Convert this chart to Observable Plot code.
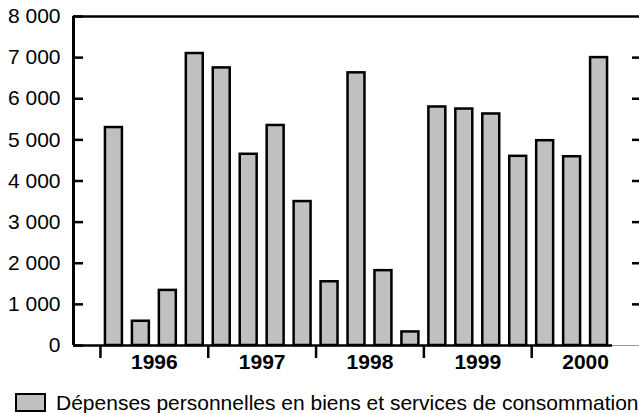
<!DOCTYPE html>
<html>
<head>
<meta charset="utf-8">
<script src="https://cdn.jsdelivr.net/npm/d3@7"></script>
<script src="https://cdn.jsdelivr.net/npm/@observablehq/plot@0.6"></script>
<style>
  body { margin: 0; background: #fff; font-family: "Liberation Sans", Arial, sans-serif; }
  #wrap { position: relative; width: 639px; height: 413px; overflow: hidden; }
  #legend { position: absolute; left: 15px; top: 392px; height: 21px; display: flex; align-items: center; font-size: 21px; color: #000; white-space: nowrap; }
  #legend .sw { width: 27px; height: 15px; background: #c0c0c0; border: 2px solid #000; margin-right: 10px; }
</style>
</head>
<body>
<div id="wrap">
  <div id="chart"></div>
  <div id="legend"><span class="sw"></span><span id="legtext"></span></div>
</div>
<script>
const years = [1996, 1997, 1998, 1999, 2000];
const quarterValues = [
  5300, 590, 1340, 7100,
  6750, 4650, 5350, 3500,
  1550, 6630, 1820, 330,
  5800, 5750, 5630, 4600,
  4980, 4590, 7000
];
const yTicks = [0, 1000, 2000, 3000, 4000, 5000, 6000, 7000, 8000];
const seriesName = "Dépenses personnelles en biens et services de consommation";

const data = quarterValues.map((v, i) => ({t: years[0] + i / 4, v}));
const fmt = d => d3.format(",")(d).replace(/,/g, " ");
const innerTicks = yTicks.filter(d => d > 0 && d < 8000);

const chart = Plot.plot({
  width: 639,
  height: 380,
  marginLeft: 73,
  marginRight: 0,
  marginTop: 16,
  marginBottom: 35,
  x: {type: "linear", domain: [years[0] - 0.25, years[years.length - 1] + 1], axis: null},
  y: {domain: [0, 8000], axis: null},
  style: {fontFamily: "'Liberation Sans', Arial, sans-serif", fontSize: "21px", color: "#000", background: "#fff"},
  marks: [
    Plot.rectY(data, {x1: "t", x2: d => d.t + 0.25, y: "v", fill: "#c0c0c0", stroke: "#000", strokeWidth: 2.5, insetLeft: 5, insetRight: 5}),
    Plot.ruleX([years[0] - 0.25], {stroke: "#000", strokeWidth: 3}),
    Plot.ruleY([8000], {stroke: "#000", strokeWidth: 2.5}),
    Plot.ruleY([0], {x1: years[0] - 0.25, x2: data[data.length - 1].t + 0.25, stroke: "#000", strokeWidth: 2.5}),
    Plot.ruleY([0], {x1: data[data.length - 1].t + 0.25, x2: years[years.length - 1] + 1, stroke: "#999", strokeWidth: 1}),
    Plot.axisY({anchor: "left", ticks: yTicks, tickSize: 10, dx: 10, tickPadding: 13, tickFormat: fmt, strokeWidth: 2.5, label: null, fontSize: 21}),
    Plot.axisY({anchor: "right", ticks: innerTicks, tickSize: 8, dx: -8, tickFormat: () => "", strokeWidth: 2.5, label: null}),
    Plot.axisX({ticks: years, tickSize: 13, tickFormat: () => "", strokeWidth: 2.5, label: null}),
    Plot.text(years, {x: d => d + 0.5, y: 0, dy: 17, text: d => String(d), fontWeight: "bold", fontSize: 21})
  ]
});
document.getElementById("chart").appendChild(chart);
document.getElementById("legtext").textContent = seriesName;
</script>
</body>
</html>
